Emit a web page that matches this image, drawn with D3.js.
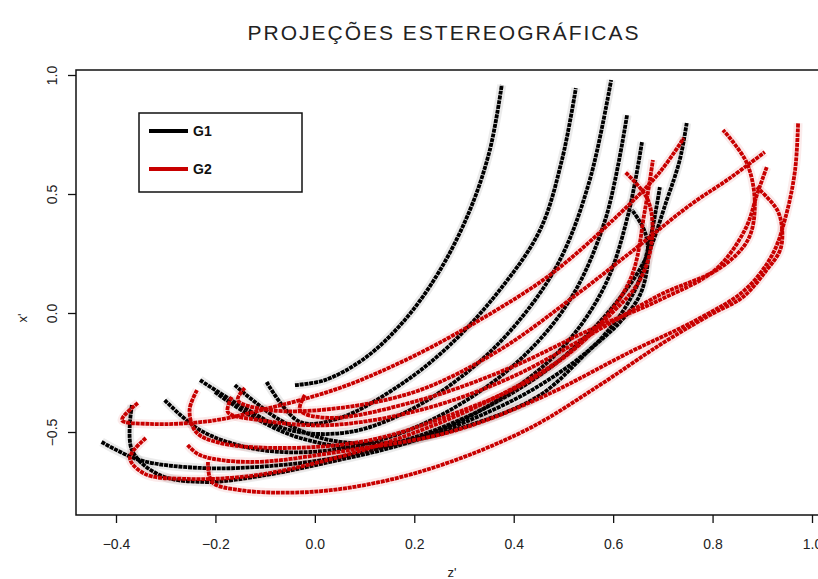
<!DOCTYPE html>
<html>
<head>
<meta charset="utf-8">
<script src="https://cdn.jsdelivr.net/npm/d3@7"></script>
<style>
  body { margin: 0; background: #fff; }
  svg { display: block; font-family: "Liberation Sans", Arial, sans-serif; }
</style>
</head>
<body>
<svg id="render" width="818" height="579"></svg>
<script>
const title = "PROJEÇÕES ESTEREOGRÁFICAS";
const xTicks = [-0.4, -0.2, 0.0, 0.2, 0.4, 0.6, 0.8, 1.0];
const yTicks = [-0.5, 0.0, 0.5, 1.0];
const groups = ["G1", "G2"];
const colors = ["#000000", "#c80000"];

// G1 curves, points as [z', x']
const g1Curves = [
    [[-0.040,-0.303],[0.020,-0.282],[0.101,-0.189],[0.181,-0.029],[0.252,0.181],[0.312,0.433],[0.352,0.685],[0.376,0.958]],
    [[-0.097,-0.290],[-0.030,-0.458],[0.050,-0.441],[0.171,-0.303],[0.272,-0.134],[0.372,0.097],[0.453,0.349],[0.497,0.643],[0.525,0.945]],
    [[-0.231,-0.282],[-0.151,-0.387],[-0.050,-0.492],[0.070,-0.500],[0.191,-0.408],[0.312,-0.239],[0.412,-0.029],[0.493,0.223],[0.553,0.559],[0.596,0.979]],
    [[-0.302,-0.366],[-0.231,-0.492],[-0.131,-0.567],[-0.010,-0.584],[0.131,-0.534],[0.272,-0.408],[0.412,-0.197],[0.513,0.055],[0.584,0.391],[0.628,0.832]],
    [[-0.201,-0.332],[-0.131,-0.429],[-0.030,-0.525],[0.111,-0.567],[0.252,-0.492],[0.392,-0.332],[0.503,-0.134],[0.584,0.118],[0.630,0.412],[0.658,0.718]],
    [[-0.429,-0.542],[-0.352,-0.618],[-0.231,-0.651],[-0.091,-0.643],[0.070,-0.597],[0.231,-0.500],[0.372,-0.366],[0.493,-0.197],[0.594,0.013],[0.664,0.223],[0.708,0.475],[0.734,0.643],[0.748,0.798]],
    [[-0.368,-0.387],[-0.368,-0.576],[-0.312,-0.681],[-0.221,-0.710],[-0.111,-0.685],[0.030,-0.626],[0.171,-0.555],[0.312,-0.450],[0.453,-0.303],[0.573,-0.113],[0.644,0.097],[0.674,0.307],[0.694,0.529]],
    [[-0.161,-0.303],[-0.070,-0.450],[0.030,-0.534],[0.171,-0.542],[0.312,-0.471],[0.453,-0.345],[0.553,-0.155],[0.614,-0.038],[0.654,0.076],[0.670,0.223],[0.664,0.340],[0.638,0.433]]
];

// G2 curves
const g2Curves = [
    [[-0.356,-0.378],[-0.388,-0.450],[-0.332,-0.466],[-0.211,-0.454],[-0.091,-0.399],[0.050,-0.315],[0.191,-0.189],[0.332,-0.029],[0.473,0.160],[0.604,0.399],[0.694,0.592],[0.742,0.735]],
    [[-0.340,-0.525],[-0.372,-0.609],[-0.342,-0.676],[-0.262,-0.697],[-0.131,-0.685],[0.010,-0.626],[0.171,-0.525],[0.332,-0.387],[0.493,-0.197],[0.594,-0.008],[0.654,0.139],[0.678,0.307],[0.670,0.475],[0.624,0.592]],
    [[-0.237,-0.324],[-0.252,-0.408],[-0.239,-0.500],[-0.191,-0.546],[-0.050,-0.567],[0.111,-0.534],[0.272,-0.429],[0.433,-0.282],[0.553,-0.092],[0.634,0.139],[0.664,0.433],[0.680,0.643]],
    [[-0.215,-0.626],[-0.207,-0.710],[-0.151,-0.744],[-0.010,-0.752],[0.131,-0.710],[0.272,-0.626],[0.433,-0.483],[0.573,-0.303],[0.694,-0.134],[0.795,-0.008],[0.861,0.067],[0.909,0.181],[0.936,0.265],[0.940,0.349],[0.930,0.433],[0.889,0.529]],
    [[-0.256,-0.555],[-0.231,-0.597],[-0.131,-0.626],[0.070,-0.576],[0.272,-0.500],[0.453,-0.357],[0.634,-0.164],[0.775,-0.021],[0.865,0.097],[0.920,0.244],[0.948,0.412],[0.966,0.601],[0.972,0.798]],
    [[-0.167,-0.353],[-0.175,-0.416],[-0.111,-0.450],[0.030,-0.471],[0.211,-0.408],[0.392,-0.273],[0.553,-0.092],[0.694,0.076],[0.815,0.189],[0.871,0.307],[0.885,0.454],[0.869,0.630],[0.821,0.769]],
    [[-0.020,-0.345],[-0.030,-0.408],[0.030,-0.441],[0.211,-0.366],[0.392,-0.231],[0.553,-0.071],[0.694,0.055],[0.805,0.181],[0.865,0.349],[0.891,0.508],[0.909,0.613]],
    [[-0.141,-0.315],[-0.155,-0.366],[-0.091,-0.408],[0.050,-0.399],[0.211,-0.324],[0.372,-0.155],[0.533,0.088],[0.654,0.286],[0.755,0.454],[0.835,0.567],[0.905,0.676]]
];

const svg = d3.select("svg#render");
const box = {left: 76, top: 70, right: 850, bottom: 515};

const x = d3.scaleLinear()
    .domain([-0.4, 1.0])
    .range([116, 812]);
const y = d3.scaleLinear()
    .domain([-0.5, 1.0])
    .range([432, 75]);

// title
svg.append("text")
    .attr("x", 443)
    .attr("y", 40)
    .attr("text-anchor", "middle")
    .attr("font-size", 21)
    .attr("fill", "#222")
    .attr("textLength", 391)
    .text(title);

// curves
const line = d3.line()
    .x(d => x(d[0]))
    .y(d => y(d[1]))
    .curve(d3.curveCatmullRom.alpha(0.5));

const curveLayer = svg.append("g");
[g1Curves, g2Curves].forEach((set, i) => {
    const g = curveLayer.append("g");
    g.selectAll("path.halo")
        .data(set)
        .enter()
        .append("path")
        .attr("class", "halo")
        .attr("d", line)
        .attr("fill", "none")
        .attr("stroke", colors[i])
        .attr("stroke-opacity", 0.08)
        .attr("stroke-width", 9);
    g.selectAll("path.curve")
        .data(set)
        .enter()
        .append("path")
        .attr("class", "curve")
        .attr("d", line)
        .attr("fill", "none")
        .attr("stroke", colors[i])
        .attr("stroke-width", 3.8)
        .attr("stroke-dasharray", "4,0.8");
});

// plot box
svg.append("rect")
    .attr("x", box.left)
    .attr("y", box.top)
    .attr("width", box.right - box.left)
    .attr("height", box.bottom - box.top)
    .attr("fill", "none")
    .attr("stroke", "#111")
    .attr("stroke-width", 1.5);

// x axis
const xAxis = svg.append("g")
    .attr("transform", `translate(0, ${box.bottom})`)
    .call(d3.axisBottom(x).tickValues(xTicks).tickFormat(d3.format(".1f")).tickSize(8).tickPadding(16));
xAxis.select(".domain").remove();
xAxis.selectAll("line").attr("stroke", "#111").attr("stroke-width", 1.3);
xAxis.selectAll("text")
    .attr("font-size", 14)
    .attr("fill", "#222")
    .attr("font-family", "'Liberation Sans', Arial, sans-serif");

// y axis
const yAxis = svg.append("g")
    .attr("transform", `translate(${box.left}, 0)`)
    .call(d3.axisLeft(y).tickValues(yTicks).tickFormat(d3.format(".1f")).tickSize(8).tickPadding(0));
yAxis.select(".domain").remove();
yAxis.selectAll("line").attr("stroke", "#111").attr("stroke-width", 1.3);
yAxis.selectAll("text")
    .attr("font-size", 14)
    .attr("fill", "#222")
    .attr("font-family", "'Liberation Sans', Arial, sans-serif")
    .attr("text-anchor", "middle")
    .attr("dy", null)
    .attr("x", 0)
    .attr("transform", "translate(-19, 0) rotate(-90)");

// axis titles
svg.append("text")
    .attr("x", 452)
    .attr("y", 577)
    .attr("text-anchor", "middle")
    .attr("font-size", 13)
    .attr("fill", "#222")
    .text("z'");
svg.append("text")
    .attr("transform", "translate(27, 318) rotate(-90)")
    .attr("text-anchor", "middle")
    .attr("font-size", 13)
    .attr("fill", "#222")
    .text("x'");

// legend
const legend = svg.append("g");
legend.append("rect")
    .attr("x", 139)
    .attr("y", 113)
    .attr("width", 163)
    .attr("height", 79)
    .attr("fill", "#fff")
    .attr("stroke", "#111")
    .attr("stroke-width", 1.5);
const items = legend.selectAll("g.item")
    .data(groups)
    .enter()
    .append("g")
    .attr("class", "item")
    .attr("transform", (d, i) => `translate(149, ${131 + i * 38})`);
items.append("line")
    .attr("x1", 0)
    .attr("x2", 39)
    .attr("stroke", (d, i) => colors[i])
    .attr("stroke-width", 4);
items.append("text")
    .attr("x", 44)
    .attr("dy", "0.36em")
    .attr("font-size", 14)
    .attr("font-weight", "bold")
    .attr("fill", "#111")
    .text(d => d);
</script>
</body>
</html>
